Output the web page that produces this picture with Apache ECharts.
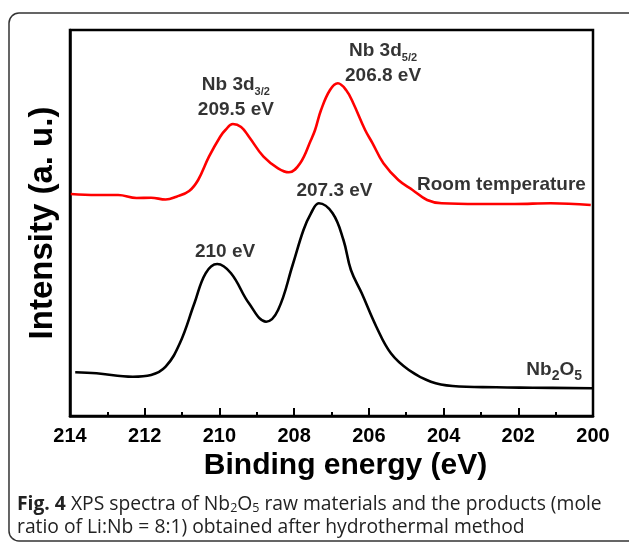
<!DOCTYPE html>
<html><head><meta charset="utf-8">
<script src="https://cdn.jsdelivr.net/npm/echarts@6/dist/echarts.min.js"></script>
<style>html,body{margin:0;padding:0;background:#fff}#c{width:629px;height:544px}</style>
</head><body><div id="c"></div>
<script>
// Binding energy (eV) / intensity (a.u.)
const nb2o5Energy = [213.86,213.29,212.32,211.83,211.44,211.06,210.67,210.37,210.06,209.69,209.21,208.75,208.43,208.04,207.75,207.55,207.34,206.97,206.68,206.48,206.19,205.80,205.41,204.93,204.34,203.76,202.59,201.61,200.01];
const nb2o5Intensity = [43.7,42.7,39.3,41,49.3,72.7,112.7,142.7,152,142.7,112.7,94.3,106,151,186,202.7,212.7,202.7,176,146,122.7,89.3,62.7,46,34.3,30,28.7,28.3,27.7];
const roomEnergy = [213.98,213.29,212.71,212.22,211.83,211.44,211.15,210.81,210.57,210.28,209.98,209.84,209.64,209.42,209.21,208.82,208.43,208.14,207.84,207.55,207.44,207.28,207.04,206.83,206.61,206.42,206.10,205.90,205.61,205.21,204.83,204.44,204.05,203.07,202.10,201.13,200.06];
const roomIntensity = [222,221,221,218,218.3,216.5,219.3,225,236,259.3,279.3,286,292,289,279.3,259.3,247.7,243.7,252.7,276,286,306,326,332.7,326,313,286,272.7,252.7,236,226,216,212.7,212,212,212.7,211];
const xTicks = [214,212,210,208,206,204,202,200];
// annotations: [energy, intensity, text]
const annoEnergy = [205.62, 209.56, 206.92, 209.85, 202.45, 201.04];
const annoIntensity = [353, 319, 225, 164, 231, 46];
const annoText = ['Nb 3d{s|5/2}\n206.8 eV', 'Nb 3d{s|3/2}\n209.5 eV', '207.3 eV', '210 eV', 'Room temperature', 'Nb{s2|2}O{s2|5}'];

const chart = echarts.init(document.getElementById('c'), null, {renderer:'canvas'});
const FF = 'Liberation Sans';
const zip = (a,b) => a.map((v,i)=>[v,b[i]]);
chart.setOption({
  animation:false,
  grid:{left:70,right:36,top:30,bottom:128,show:true,borderColor:'#000',borderWidth:2.5,backgroundColor:'transparent'},
  xAxis:{type:'value',min:200,max:214,interval:2,inverse:true,
    name:'Binding energy (eV)',nameLocation:'middle',nameGap:30,
    nameTextStyle:{fontFamily:FF,fontWeight:'bold',fontSize:30,color:'#000',padding:[0,0,0,28]},
    axisLine:{lineStyle:{color:'#000',width:2.5}},
    axisTick:{inside:true,length:8,lineStyle:{color:'#000',width:2}},
    minorTick:{show:true,splitNumber:2,length:4,lineStyle:{color:'#000',width:2}},
    axisLabel:{fontFamily:FF,fontWeight:'bold',fontSize:20,color:'#000',margin:10,
      formatter:v=>xTicks.includes(v)?String(v):''},
    splitLine:{show:false}},
  yAxis:{type:'value',min:0,max:386,
    name:'Intensity (a. u.)',nameLocation:'middle',nameGap:11,
    nameTextStyle:{fontFamily:FF,fontWeight:'bold',fontSize:33,color:'#000'},
    axisLine:{show:true,lineStyle:{color:'#000',width:2.5}},
    axisTick:{show:false},axisLabel:{show:false},splitLine:{show:false}},
  series:[
    {type:'line',name:'Room temperature',data:zip(roomEnergy,roomIntensity),smooth:0.4,showSymbol:false,
      lineStyle:{color:'#ff0000',width:2.6}},
    {type:'line',name:'Nb2O5',data:zip(nb2o5Energy,nb2o5Intensity),smooth:0.4,showSymbol:false,
      lineStyle:{color:'#000',width:2.6}},
    {type:'scatter',symbolSize:0,silent:true,
      data:annoEnergy.map((e,i)=>({value:[e,annoIntensity[i]],label:{formatter:annoText[i]}})),
      label:{show:true,position:'inside',fontFamily:FF,fontWeight:'bold',fontSize:19,color:'#000',lineHeight:25,align:'center',
        rich:{s:{fontFamily:FF,fontWeight:'bold',fontSize:11,color:'#000',padding:[14,0,0,0]},
              s2:{fontFamily:FF,fontWeight:'bold',fontSize:14,color:'#000',padding:[12,0,0,0]}}}}
  ],
  graphic:[
    {type:'rect',shape:{x:9,y:13,width:640,height:528,r:10},style:{fill:'none',stroke:'#333',lineWidth:1.5},silent:true},
    {type:'text',left:17,top:493,style:{
      text:'{b|Fig. 4} XPS spectra of Nb{s|2}O{s|5} raw materials and the products (mole\nratio of Li:Nb = 8:1) obtained after hydrothermal method',
      font:'19.3px "Open Sans"',fill:'#222',lineHeight:23,
      rich:{b:{fontFamily:'Open Sans',fontWeight:'bold',fontSize:19.3,fill:'#222',lineHeight:23},
            s:{fontFamily:'Open Sans',fontSize:12.5,fill:'#222',padding:[8,0,0,0],lineHeight:16}}}}
  ]
});
</script></body></html>
